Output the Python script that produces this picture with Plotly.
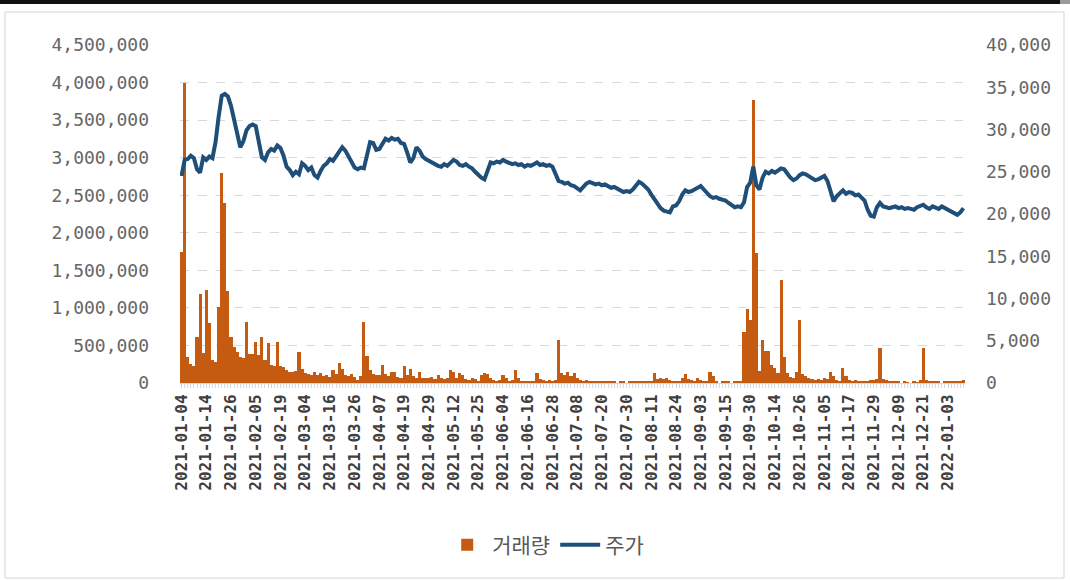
import pandas as pd
import plotly.graph_objects as go

# ---------------- data ----------------
KRX_HOLIDAYS = ["2021-01-01", "2021-02-11", "2021-02-12", "2021-03-01", "2021-05-05",
                "2021-05-19", "2021-08-16", "2021-09-20", "2021-09-21", "2021-09-22",
                "2021-10-04", "2021-10-11", "2021-12-31"]
dates = pd.bdate_range("2021-01-04", "2022-01-10", freq="C",
                       holidays=KRX_HOLIDAYS).strftime("%Y-%m-%d").tolist()

tick_labels = ["2021-01-04", "2021-01-14", "2021-01-26", "2021-02-05", "2021-02-19",
               "2021-03-04", "2021-03-16", "2021-03-26", "2021-04-07", "2021-04-19",
               "2021-04-29", "2021-05-12", "2021-05-25", "2021-06-04", "2021-06-16",
               "2021-06-28", "2021-07-08", "2021-07-20", "2021-07-30", "2021-08-11",
               "2021-08-24", "2021-09-03", "2021-09-15", "2021-09-30", "2021-10-14",
               "2021-10-26", "2021-11-05", "2021-11-17", "2021-11-29", "2021-12-09",
               "2021-12-21", "2022-01-03"]

volume = [
    1750000, 3990000, 350000, 250000, 230000, 610000, 1180000, 400000, 1240000, 800000,
    300000, 280000, 1010000, 2790000, 2400000, 1220000, 610000, 480000, 410000, 340000,
    330000, 810000, 390000, 380000, 550000, 370000, 610000, 300000, 530000, 240000,
    220000, 550000, 230000, 210000, 170000, 150000, 140000, 160000, 410000, 190000,
    130000, 120000, 110000, 150000, 100000, 130000, 90000, 100000, 80000, 170000,
    120000, 260000, 190000, 110000, 90000, 120000, 80000, 40000, 90000, 810000,
    360000, 170000, 120000, 100000, 110000, 240000, 120000, 90000, 150000, 140000,
    80000, 70000, 230000, 100000, 190000, 90000, 70000, 150000, 60000, 70000,
    60000, 80000, 50000, 100000, 60000, 50000, 70000, 170000, 150000, 70000,
    130000, 110000, 50000, 40000, 60000, 50000, 30000, 100000, 130000, 120000,
    60000, 40000, 30000, 40000, 100000, 60000, 30000, 40000, 170000, 60000,
    30000, 20000, 30000, 25000, 30000, 130000, 50000, 40000, 30000, 40000,
    30000, 40000, 570000, 130000, 100000, 150000, 90000, 130000, 60000, 40000,
    30000, 40000, 25000, 30000, 20000, 25000, 30000, 20000, 30000, 15000,
    20000, 0, 20000, 15000, 0, 20000, 25000, 20000, 15000, 30000,
    25000, 20000, 20000, 130000, 50000, 60000, 50000, 60000, 40000, 30000,
    20000, 30000, 60000, 120000, 50000, 40000, 30000, 60000, 40000, 20000,
    30000, 150000, 90000, 20000, 0, 20000, 15000, 20000, 0, 15000,
    20000, 20000, 680000, 990000, 840000, 3770000, 1730000, 160000, 570000, 420000,
    430000, 240000, 200000, 130000, 1370000, 350000, 130000, 80000, 60000, 150000,
    840000, 120000, 90000, 60000, 50000, 40000, 50000, 40000, 60000, 50000,
    150000, 90000, 40000, 30000, 200000, 90000, 40000, 30000, 40000, 30000,
    20000, 15000, 30000, 40000, 40000, 50000, 470000, 50000, 40000, 30000,
    20000, 20000, 15000, 0, 15000, 10000, 0, 20000, 10000, 40000,
    470000, 40000, 30000, 20000, 20000, 15000, 0, 20000, 30000, 20000,
    15000, 20000, 20000, 40000,
]

price = [
    24500, 26400, 26500, 26900, 26600, 25300, 24900, 26700, 26400, 26800,
    26600, 28500, 31500, 34000, 34200, 33900, 32800, 31200, 29800, 27900,
    28600, 29900, 30400, 30600, 30400, 28500, 26700, 26400, 27300, 27700,
    27500, 28100, 27800, 26900, 25600, 25200, 24600, 25000, 24700, 26000,
    25700, 25200, 25500, 24600, 24300, 25100, 25700, 26000, 26500, 26300,
    26800, 27400, 27900, 27500, 26800, 26200, 25500, 25300, 25500, 25400,
    27000, 28500, 28400, 27600, 27700, 28400, 28900, 28700, 29000, 28800,
    28900, 28400, 28300, 27300, 26100, 26600, 27900, 27500, 26800, 26500,
    26300, 26000, 25900, 25700, 25600, 25900, 25700, 26100, 26400, 26200,
    25800, 25700, 25900, 25600, 25400, 25000, 24600, 24300, 24100, 25200,
    26100, 26000, 26200, 26100, 26400, 26200, 26100, 25900, 26000, 25800,
    25900, 25600, 25800, 25700, 25900, 26100, 25800, 25900, 25700, 25800,
    25600, 24600, 23900, 23800, 23600, 23700, 23400, 23300, 23000, 22800,
    23200, 23600, 23800, 23700, 23500, 23600, 23400, 23500, 23300, 23100,
    23200, 23000, 22700, 22600, 22700, 22600, 22900, 23400, 23800, 23600,
    23200, 22900, 22300, 21700, 21300, 20700, 20400, 20300, 20200, 20900,
    21000, 21500, 22300, 22800, 22600, 22700, 22900, 23100, 23300, 22900,
    22500, 22100, 21900, 22000, 21800, 21700, 21600, 21300, 21000, 20800,
    20900, 20800, 21400, 23200, 23700, 25600, 23400, 22900, 24300, 25000,
    24800, 25100, 24900, 25200, 25400, 25300, 24700, 24300, 24000, 24200,
    24600, 24800, 24700, 24500, 24200, 24000, 24100, 24300, 24500, 23900,
    22600, 21500, 22100, 22400, 22800, 22400, 22600, 22500, 22200, 22300,
    21900, 21600, 20500, 19800, 19700, 20800, 21300, 20900, 20800, 20700,
    20800, 20900, 20700, 20800, 20600, 20700, 20600, 20500, 20800, 21000,
    21100, 20800, 20600, 20900, 20800, 20600, 20900, 20700, 20500, 20300,
    20100, 19900, 20200, 20700,
]

# ---------------- figure ----------------
W, H = 1070, 580
L, R, T, B = 180, 105, 45, 197
PW, PH = W - L - R, H - T - B


def px_x(px):
    return (px - L) / PW


def px_y(py):
    return (T + PH - py) / PH


fig = go.Figure()
fig.add_trace(go.Bar(x=dates, y=volume, name="거래량",
                     marker=dict(color="#C55A11", line=dict(width=0)), yaxis="y"))
fig.add_trace(go.Scatter(x=dates, y=price, name="주가", mode="lines",
                         line=dict(color="#1F4E79", width=4), yaxis="y2"))

ticktext = [d if d in tick_labels else "" for d in dates]

fig.update_layout(
    width=W, height=H,
    margin=dict(l=L, r=R, t=T, b=B, autoexpand=False),
    paper_bgcolor="white", plot_bgcolor="white",
    bargap=0.0,
    showlegend=True,
    legend=dict(orientation="h", xref="container", yref="container",
                x=0.51, xanchor="center", y=0.06, yanchor="middle",
                font=dict(family="Noto Sans CJK KR", size=21, color="#595959"),
                itemwidth=40, traceorder="normal"),
    xaxis=dict(type="category", range=[-0.5, len(dates) - 0.5],
               tickmode="array", tickvals=dates, ticktext=ticktext,
               tickangle=-90, ticks="outside", ticklen=4, tickcolor="#d0d8e0",
               showline=True, linecolor="#d9d9d9", linewidth=1,
               showgrid=False,
               tickfont=dict(family="DejaVu Sans Mono", size=16, color="#404040",
                             weight="bold")),
    yaxis=dict(range=[0, 4500000], dtick=500000, tickformat=",",
               showgrid=True, gridcolor="#d9d9d9", griddash="dash", gridwidth=1,
               zeroline=False, showline=False, ticks="",
               ticklabelstandoff=30,
               tickfont=dict(family="DejaVu Sans Mono", size=18, color="#666666")),
    yaxis2=dict(range=[0, 40000], dtick=5000, tickformat=",", overlaying="y",
                side="right", showgrid=False, zeroline=False, showline=False, ticks="",
                ticklabelstandoff=20,
                tickfont=dict(family="DejaVu Sans Mono", size=18, color="#666666")),
    shapes=[
        dict(type="rect", xref="paper", yref="paper",
             x0=px_x(5), x1=px_x(1064), y0=px_y(578), y1=px_y(12),
             line=dict(color="#d4d4d4", width=1), fillcolor="rgba(0,0,0,0)", layer="below"),
        dict(type="rect", xref="paper", yref="paper",
             x0=px_x(0), x1=px_x(1060), y0=px_y(4), y1=px_y(0),
             line=dict(width=0), fillcolor="#111111", layer="above"),
        dict(type="rect", xref="paper", yref="paper",
             x0=px_x(1060), x1=px_x(1070), y0=px_y(4), y1=px_y(0),
             line=dict(width=0), fillcolor="#9a9a9a", layer="above"),
    ],
)

fig.write_html("out.html",
               config={"displayModeBar": False},
               post_script="document.body.style.margin='0';"
                           "document.body.style.overflow='hidden';")
